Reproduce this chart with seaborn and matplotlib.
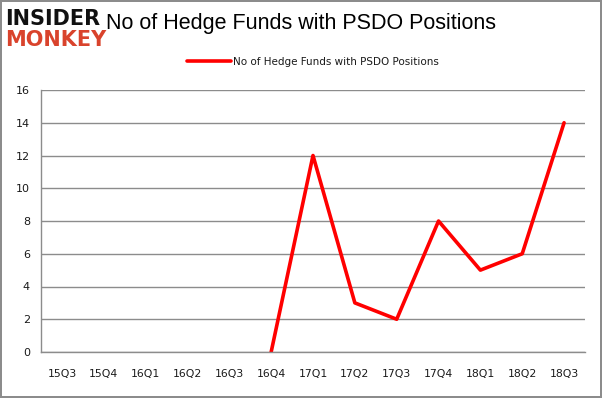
import numpy as np
import pandas as pd
import matplotlib
matplotlib.use("Agg")
import matplotlib.pyplot as plt
import seaborn as sns

quarters = ["15Q3", "15Q4", "16Q1", "16Q2", "16Q3", "16Q4", "17Q1",
            "17Q2", "17Q3", "17Q4", "18Q1", "18Q2", "18Q3"]
funds = [np.nan, np.nan, np.nan, np.nan, np.nan, 0, 12, 3, 2, 8, 5, 6, 14]
series_name = "No of Hedge Funds with PSDO Positions"
y_ticks = [0, 2, 4, 6, 8, 10, 12, 14, 16]

sns.set_style("white")
plt.rcParams['font.family'] = ['DejaVu Sans']

df = pd.DataFrame({"pos": np.arange(len(quarters)), "funds": funds,
                   "series": series_name})

fig = plt.figure(figsize=(6.02, 3.98), dpi=100)
fig.patch.set_edgecolor("#8c8c8c")
fig.patch.set_linewidth(1.5)
ax = fig.add_axes([41/602, 1-352/398, (585-41)/602, (352-90)/398])

sns.lineplot(data=df, x="pos", y="funds", hue="series", palette=["#ff0000"],
             linewidth=2.6, ax=ax, legend=True)

ax.set_xlim(-0.5, len(quarters) - 0.5)
ax.set_ylim(0, 16)
ax.set_yticks(y_ticks)
ax.set_yticklabels([str(v) for v in y_ticks], fontsize=8, color="#1a1a1a")
ax.set_xticks(np.arange(len(quarters)))
ax.set_xticklabels(quarters, fontsize=7.8, color="#1a1a1a")
ax.set_xticks(np.arange(len(quarters) + 1) - 0.5, minor=True)
ax.tick_params(axis="x", which="major", length=0, pad=12)
ax.tick_params(axis="x", which="minor", length=4, color="#888888", width=1, direction="out")
ax.tick_params(axis="y", which="major", length=4, color="#888888", width=1, direction="out", pad=4)
ax.yaxis.grid(True, color="#8c8c8c", linewidth=1)
ax.xaxis.grid(False)
for s in ["top", "right"]:
    ax.spines[s].set_visible(False)
for s in ["left", "bottom"]:
    ax.spines[s].set_color("#8c8c8c")
    ax.spines[s].set_linewidth(1)
ax.set_xlabel("")
ax.set_ylabel("")

leg = ax.legend(loc="center", bbox_to_anchor=(0.5, (1 - 62/398 - (1-352/398)) / ((352-90)/398)),
                bbox_transform=ax.transAxes, frameon=False, fontsize=7.5,
                handlelength=4.2, handletextpad=0.2)
for t in leg.get_texts():
    t.set_color("#1a1a1a")

fig.text(301.5/602, 1-24/398, series_name, ha="center", va="center",
         fontsize=15.5, family="Liberation Sans", color="#000000")

fig.text(5/602, 1-19/398, "INSIDER", ha="left", va="center", fontsize=15,
         fontweight="heavy", color="#111111", family="DejaVu Sans")
fig.text(5/602, 1-40/398, "MONKEY", ha="left", va="center", fontsize=15,
         fontweight="heavy", color="#d9432c", family="DejaVu Sans")

fig.savefig("out.png", dpi=100)
